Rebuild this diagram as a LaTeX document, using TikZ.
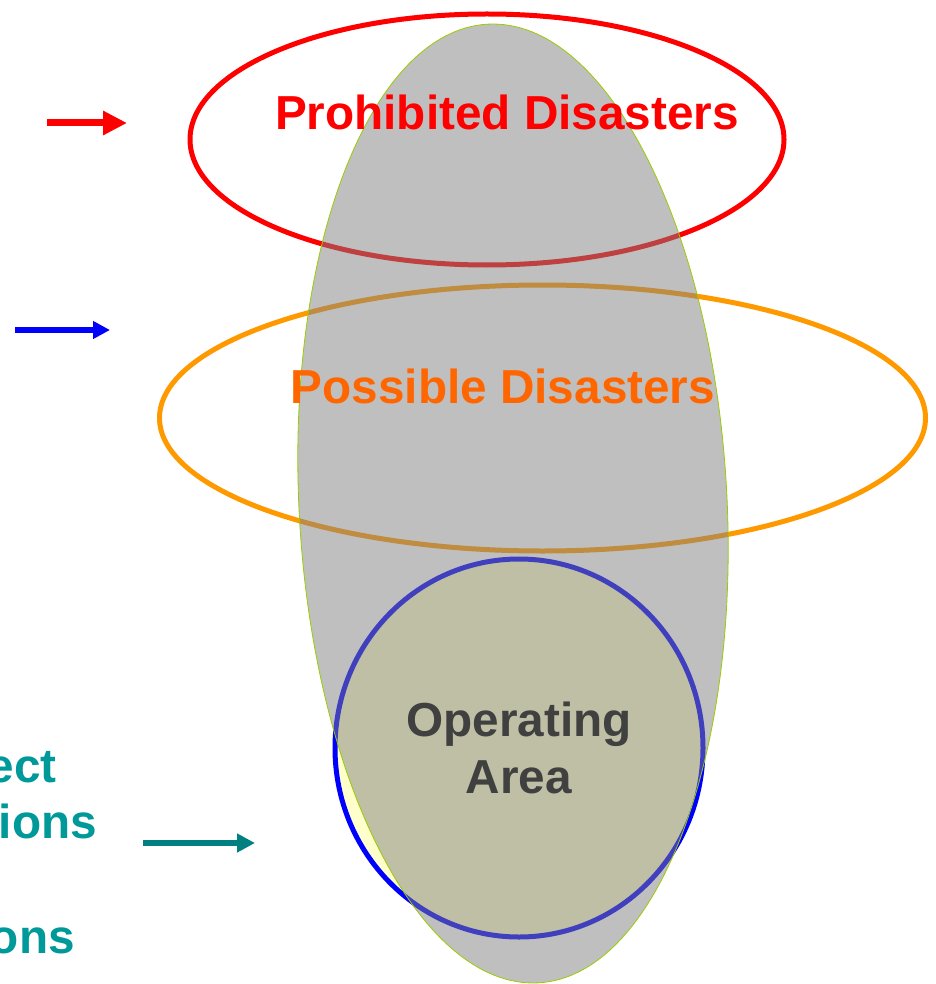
\documentclass[tikz,border=0pt]{standalone}
\usepackage{fontspec}
\setmainfont{Liberation Sans}
\usepackage{xcolor}
\usetikzlibrary{arrows.meta}

\definecolor{prohibred}{RGB}{255,0,0}
\definecolor{possorange}{RGB}{255,153,0}
\definecolor{posstext}{RGB}{255,102,0}
\definecolor{opblue}{RGB}{0,0,255}
\definecolor{opfill}{RGB}{255,255,204}
\definecolor{optext}{RGB}{64,64,64}
\definecolor{rimgreen}{RGB}{153,204,0}
\definecolor{sideteal}{RGB}{0,153,153}
\definecolor{arrowteal}{RGB}{0,128,128}

\begin{document}
\begin{tikzpicture}[
        x=1pt, y=-1pt,
        zone/.style={line width=5pt},
        label/.style={font=\bfseries\fontsize{47.7}{57}\selectfont, inner sep=0pt},
        pointer/.style={line width=#1, -{Triangle[length=18pt, width=18pt]}}
    ]
    \useasboundingbox (0,0) rectangle (935,984);

    % outlines below the grey envelope
    \draw [zone, prohibred] (487,139.5) ellipse [x radius=297, y radius=125.5];
    \draw [zone, possorange] (542.5,418) ellipse [x radius=383, y radius=133];
    \draw [zone, opblue, fill=opfill] (519,748) ellipse [x radius=184, y radius=189];

    % grey envelope, leaning a little
    \coordinate (envc) at (513,503.5);
    \fill [gray, fill opacity=0.5, rotate around={3:(envc)}] (envc) ellipse [x radius=214, y radius=480];
    \draw [rimgreen, line width=0.8pt, rotate around={3:(envc)}] (envc) ellipse [x radius=214, y radius=480];

    \node [label, prohibred, anchor=base] (prohibited) at (507,130) {Prohibited Disasters};
    \node [label, posstext, anchor=base] (possible) at (503,403) {Possible Disasters};
    \node [label, optext, anchor=base] (operating) at (519,736) {Operating};
    \node [label, optext, anchor=base] (area) at (519,793) {Area};

    \node [label, sideteal, anchor=base east] (side1) at (57,782) {ect};
    \node [label, sideteal, anchor=base east] (side2) at (97,838) {ions};
    \node [label, sideteal, anchor=base east] (side3) at (75,953) {ons};

    \coordinate (redtail) at (47,123);
    \coordinate (redhead) at (127,123);
    \coordinate (bluetail) at (15,330);
    \coordinate (bluehead) at (110,330);
    \coordinate (tealtail) at (143,843);
    \coordinate (tealhead) at (255,843);

    \draw [pointer=7pt, prohibred, -{Triangle[length=24pt, width=23pt]}] (redtail) -- (redhead);
    \draw [pointer=6pt, opblue, -{Triangle[length=17pt, width=17pt]}] (bluetail) -- (bluehead);
    \draw [pointer=6pt, arrowteal] (tealtail) -- (tealhead);

\end{tikzpicture}
\end{document}
